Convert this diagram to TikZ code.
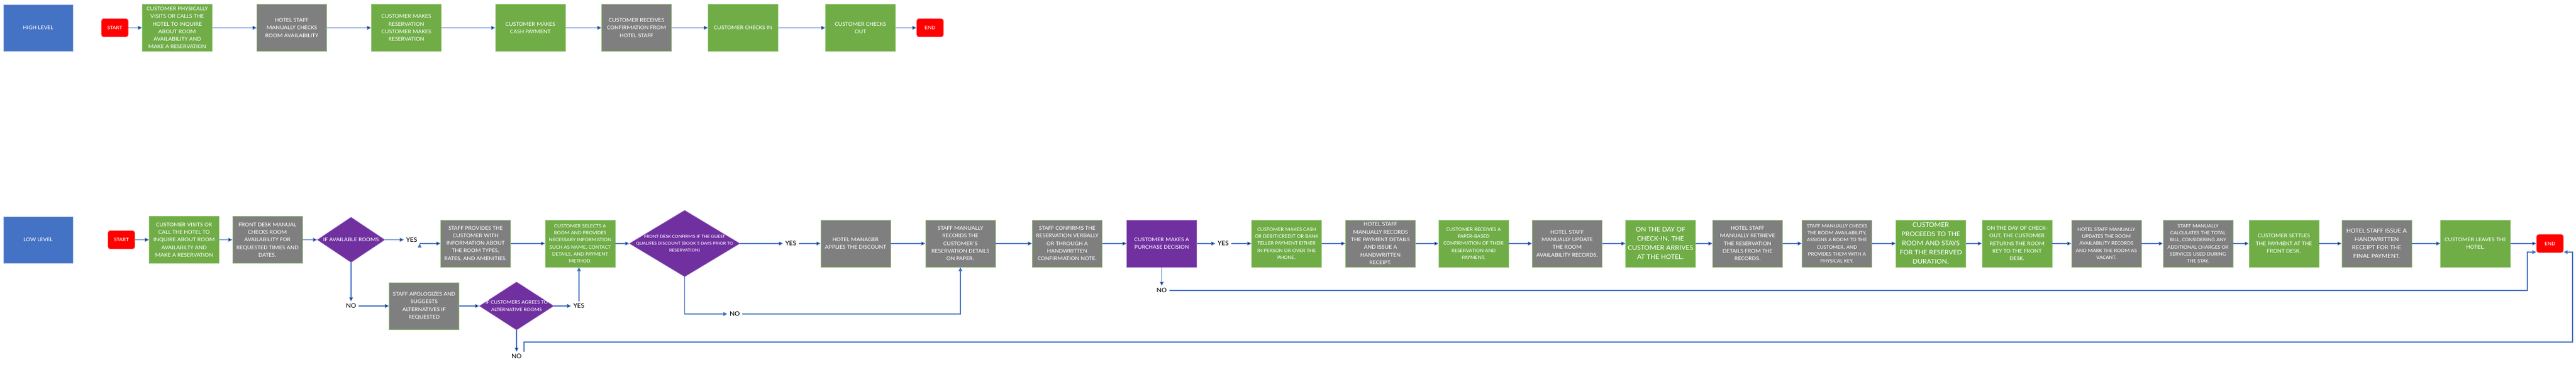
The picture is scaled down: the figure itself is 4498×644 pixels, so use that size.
\documentclass[tikz,border=0pt]{standalone}
\usepackage{fontspec}
\setmainfont{Carlito}[FakeStretch=1.12]
\usetikzlibrary{shapes.geometric,arrows.meta}
\definecolor{boxgreen}{HTML}{70AD47}
\definecolor{boxgrey}{HTML}{7F7F7F}
\definecolor{boxpurple}{HTML}{7030A0}
\definecolor{boxblue}{HTML}{4472C4}
\definecolor{boxred}{HTML}{FF0000}
\definecolor{linkblue}{HTML}{4472C4}
\definecolor{rimgreen}{HTML}{93C572}
\definecolor{rimblue}{HTML}{8FAADC}
\definecolor{rimpurple}{HTML}{9A6BC2}
\definecolor{rimred}{HTML}{FF8080}

\begin{document}
\begin{tikzpicture}[x=1pt,y=-1pt,>={Triangle[length=7pt,width=6.5pt]},
  flow/.style={->,draw=linkblue,line width=1.3pt},
  box node/.style={rectangle,minimum width=122pt,minimum height=82pt,inner sep=0pt,align=center,text=white,line width=0.7pt,font=\fontsize{10}{13.3}\selectfont},
  green node/.style={box node,fill=boxgreen,draw=rimgreen},
  grey node/.style={box node,fill=boxgrey,draw=rimgreen},
  purple node/.style={box node,fill=boxpurple,draw=rimpurple},
  blue node/.style={box node,minimum width=121pt,minimum height=81pt,fill=boxblue,draw=rimblue},
  term node/.style={rectangle,rounded corners=4pt,minimum width=47pt,minimum height=32pt,inner sep=0pt,fill=boxred,draw=rimred,line width=0.7pt,text=white,font=\fontsize{9.5}{11}\selectfont},
  decision node/.style={diamond,inner sep=0pt,fill=boxpurple,draw=rimpurple,line width=0.7pt},
  dia text/.style={align=center,text=white,inner sep=0pt,font=\fontsize{10}{13.3}\selectfont},
  label node/.style={text=black,inner sep=4pt,font=\fontsize{12}{14}\selectfont},
  small text/.style={font=\fontsize{9}{12.3}\selectfont},
  mid text/.style={font=\fontsize{11}{14.5}\selectfont},
  big text/.style={font=\fontsize{12.3}{16}\selectfont}]

  \useasboundingbox (0,0) rectangle (4498,644);

  \node[blue node] (hl) at (66.5,48.5) {HIGH LEVEL};
  \node[term node] (st1) [node distance=134pt,right of=hl] {START};
  \node[green node] (b1) [node distance=109pt,right of=st1] {CUSTOMER PHYSICALLY\\VISITS OR CALLS THE\\HOTEL TO INQUIRE\\ABOUT ROOM\\AVAILABILITY AND\\MAKE A RESERVATION};
  \node[grey node] (b2) [node distance=200pt,right of=b1] {HOTEL STAFF\\MANUALLY CHECKS\\ROOM AVAILABILITY};
  \node[green node] (b3) [node distance=200pt,right of=b2] {CUSTOMER MAKES\\RESERVATION\\CUSTOMER MAKES\\RESERVATION};
  \node[green node] (b4) [node distance=216.5pt,right of=b3] {CUSTOMER MAKES\\CASH PAYMENT};
  \node[grey node] (b5) [node distance=185.5pt,right of=b4] {CUSTOMER RECEIVES\\CONFIRMATION FROM\\HOTEL STAFF};
  \node[green node] (b6) [node distance=186pt,right of=b5] {CUSTOMER CHECKS IN};
  \node[green node] (b7) [node distance=205pt,right of=b6] {CUSTOMER CHECKS\\OUT};
  \node[term node] (en1) [node distance=121.5pt,right of=b7] {END};

  \node[blue node] (ll) [node distance=370pt,below of=hl] {LOW LEVEL};
  \node[term node] (st2) [node distance=145.5pt,right of=ll] {START};
  \node[green node] (l1) [node distance=109.5pt,right of=st2] {CUSTOMER VISITS OR\\CALL THE HOTEL TO\\INQUIRE ABOUT ROOM\\AVAILABILTY AND\\MAKE A RESERVATION};
  \node[grey node] (l2) [node distance=145.5pt,right of=l1] {FRONT DESK MANUAL\\CHECKS ROOM\\AVAILABILITY FOR\\REQUESTED TIMES AND\\DATES.};
  \node[decision node,minimum width=118pt,minimum height=79pt,label={[dia text]center:{IF AVAILABLE ROOMS}}] (d1) [node distance=146pt,right of=l2] {};
  \node[label node] (yes1) [node distance=106pt,right of=d1] {YES};
  \node[grey node] (l3) [node distance=111.5pt,right of=yes1,yshift=-6.5pt] {STAFF PROVIDES THE\\CUSTOMER WITH\\INFORMATION ABOUT\\THE ROOM TYPES,\\RATES, AND AMENITIES.};
  \node[green node,small text] (l4) [node distance=182.5pt,right of=l3] {CUSTOMER SELECTS A\\ROOM AND PROVIDES\\NECESSARY INFORMATION\\SUCH AS NAME, CONTACT\\DETAILS, AND PAYMENT\\METHOD.};
  \node[decision node,minimum width=193pt,minimum height=116pt,label={[dia text,font=\fontsize{8.2}{12}\selectfont]center:{FRONT DESK CONFIRMS IF THE GUEST\\QUALIFES DISCOUNT (BOOK 5 DAYS PRIOR TO\\RESERVATION)}}] (d3) [node distance=182.5pt,right of=l4] {};
  \node[label node] (yes3) [node distance=185.5pt,right of=d3] {YES};
  \node[grey node] (hm) [node distance=113pt,right of=yes3] {HOTEL MANAGER\\APPLIES THE DISCOUNT};
  \node[grey node] (sr) [node distance=183pt,right of=hm] {STAFF MANUALLY\\RECORDS THE\\CUSTOMER'S\\RESERVATION DETAILS\\ON PAPER.};
  \node[grey node] (sc) [node distance=186.5pt,right of=sr] {STAFF CONFIRMS THE\\RESERVATION VERBALLY\\OR THROUGH A\\HANDWRITTEN\\CONFIRMATION NOTE.};
  \node[purple node] (pd) [node distance=165pt,right of=sc] {CUSTOMER MAKES A\\PURCHASE DECISION};
  \node[label node] (yes4) [node distance=107.5pt,right of=pd] {YES};
  \node[green node,small text] (cash) [node distance=110.5pt,right of=yes4] {CUSTOMER MAKES CASH\\OR DEBIT/CREDIT OR BANK\\TELLER PAYMENT EITHER\\IN PERSON OR OVER THE\\PHONE.};
  \node[grey node] (rp) [node distance=164pt,right of=cash] {HOTEL STAFF\\MANUALLY RECORDS\\THE PAYMENT DETAILS\\AND ISSUE A\\HANDWRITTEN\\RECEIPT.};
  \node[green node,small text] (pb) [node distance=162.5pt,right of=rp] {CUSTOMER RECEIVES A\\PAPER-BASED\\CONFIRMATION OF THEIR\\RESERVATION AND\\PAYMENT.};
  \node[grey node] (ur) [node distance=163.5pt,right of=pb] {HOTEL STAFF\\MANUALLY UPDATE\\THE ROOM\\AVAILABILITY RECORDS.};
  \node[green node,big text] (ci) [node distance=163pt,right of=ur] {ON THE DAY OF\\CHECK-IN, THE\\CUSTOMER ARRIVES\\AT THE HOTEL.};
  \node[grey node] (rt) [node distance=152pt,right of=ci] {HOTEL STAFF\\MANUALLY RETRIEVE\\THE RESERVATION\\DETAILS FROM THE\\RECORDS.};
  \node[grey node,small text] (ck) [node distance=156pt,right of=rt] {STAFF MANUALLY CHECKS\\THE ROOM AVAILABILITY,\\ASSIGNS A ROOM TO THE\\CUSTOMER, AND\\PROVIDES THEM WITH A\\PHYSICAL KEY.};
  \node[green node,big text] (pr) [node distance=164pt,right of=ck] {CUSTOMER\\PROCEEDS TO THE\\ROOM AND STAYS\\FOR THE RESERVED\\DURATION.};
  \node[green node] (co) [node distance=150.5pt,right of=pr] {ON THE DAY OF CHECK-\\OUT, THE CUSTOMER\\RETURNS THE ROOM\\KEY TO THE FRONT\\DESK.};
  \node[grey node,small text] (uv) [node distance=156pt,right of=co] {HOTEL STAFF MANUALLY\\UPDATES THE ROOM\\AVAILABILITY RECORDS\\AND MARK THE ROOM AS\\VACANT.};
  \node[grey node,small text] (ca) [node distance=160pt,right of=uv] {STAFF MANUALLY\\CALCULATES THE TOTAL\\BILL, CONSIDERING ANY\\ADDITIONAL CHARGES OR\\SERVICES USED DURING\\THE STAY.};
  \node[green node] (se) [node distance=150pt,right of=ca] {CUSTOMER SETTLES\\THE PAYMENT AT THE\\FRONT DESK.};
  \node[grey node,mid text] (rc) [node distance=162pt,right of=se] {HOTEL STAFF ISSUE A\\HANDWRITTEN\\RECEIPT FOR THE\\FINAL PAYMENT.};
  \node[green node] (lv) [node distance=172.5pt,right of=rc] {CUSTOMER LEAVES THE\\HOTEL.};
  \node[term node] (en2) [node distance=130pt,right of=lv] {END};

  \node[label node] (no1) [node distance=115.5pt,below of=d1] {NO};
  \node[grey node] (ap) [node distance=127.5pt,right of=no1] {STAFF APOLOGIZES AND\\SUGGESTS\\ALTERNATIVES IF\\REQUESTED};
  \node[decision node,minimum width=130pt,minimum height=84pt,label={[dia text,font=\fontsize{9}{12.5}\selectfont]center:{IF CUSTOMERS AGREES TO\\ALTERNATIVE ROOMS}}] (d2) [node distance=161.5pt,right of=ap] {};
  \node[label node] (yes2) [node distance=109pt,right of=d2] {YES};
  \node[label node] (no2) [node distance=88pt,below of=d2] {NO};
  \node[label node] (no3) [node distance=123pt,below of=d3,xshift=87.5pt] {NO};
  \node[label node] (no4) [node distance=82pt,below of=pd] {NO};
  \coordinate (c1) at (4413,507);
  \coordinate (c2) at (4492,597);

  \path[flow]
    (st1) edge (b1)
    (b1) edge (b2)
    (b2) edge (b3)
    (b3) edge (b4)
    (b4) edge (b5)
    (b5) edge (b6)
    (b6) edge (b7)
    (b7) edge (en1);

  \path[flow]
    (st2) edge (l1)
    (l1) edge (l2)
    (l2) edge (d1)
    (d1) edge (yes1)
         edge (no1)
    (yes1.east |- l3.west) edge (l3)
    (l3) edge (l4)
    (l4) edge (d3)
    (d3) edge (yes3)
    (yes3) edge (hm)
    (hm) edge (sr)
    (sr) edge (sc)
    (sc) edge (pd)
    (pd) edge (yes4)
         edge (no4)
    (yes4) edge (cash)
    (cash) edge (rp)
    (rp) edge (pb)
    (pb) edge (ur)
    (ur) edge (ci)
    (ci) edge (rt)
    (rt) edge (ck)
    (ck) edge (pr)
    (pr) edge (co)
    (co) edge (uv)
    (uv) edge (ca)
    (ca) edge (se)
    (se) edge (rc)
    (rc) edge (lv)
    (lv) edge (en2)
    (no1) edge (ap)
    (ap) edge (d2)
    (d2) edge (yes2)
         edge (no2);

  \draw[flow] (yes2) -- (yes2 |- l4.south);
  \draw[flow] (d3) |- (no3);
  \draw[flow] (no3) -| (sr);
  \draw[flow] (no4) -- (c1) |- ([yshift=-15pt]en2.west);
  \draw[flow] (no2.north east) |- (c2) |- ([yshift=-15pt]en2.east);
\end{tikzpicture}
\end{document}
